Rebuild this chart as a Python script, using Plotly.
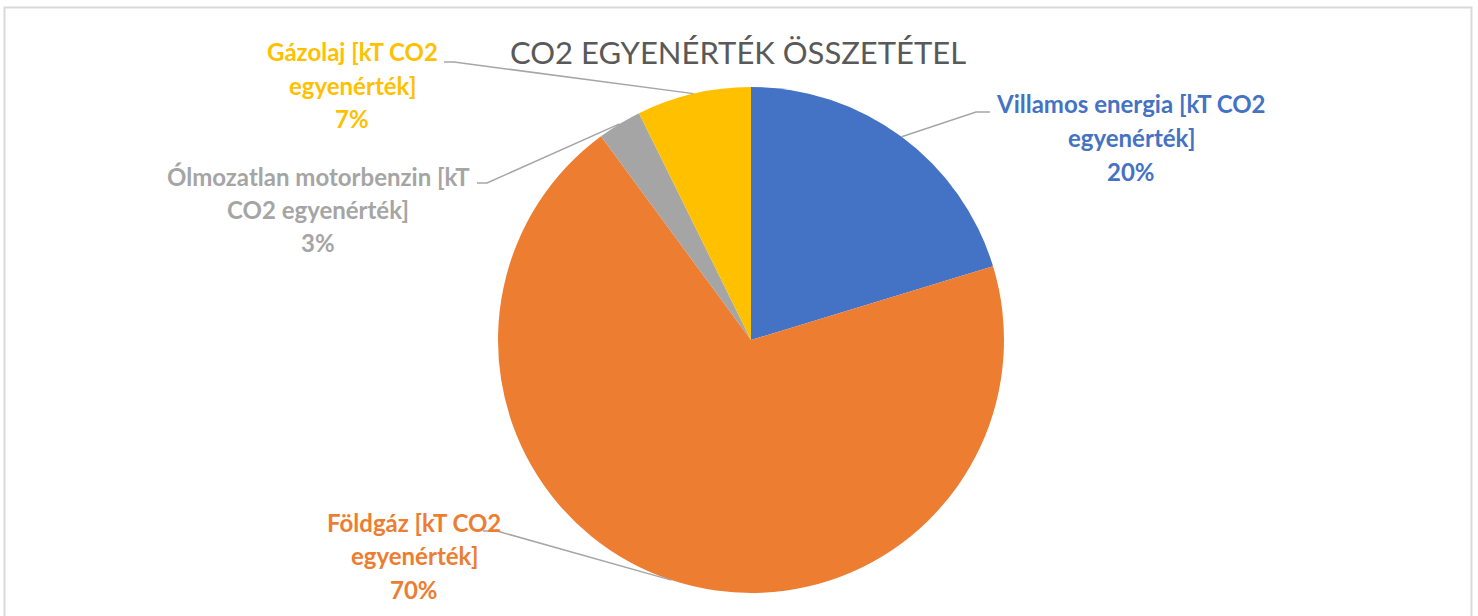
import math
import textwrap
import plotly.graph_objects as go

# ---- data ----
categories = [
    "Villamos energia [kT CO2 egyenérték]",
    "Földgáz [kT CO2 egyenérték]",
    "Ólmozatlan motorbenzin [kT CO2 egyenérték]",
    "Gázolaj [kT CO2 egyenérték]",
]
values = [20.3, 69.6, 2.8, 7.3]
colors = ["#4472C4", "#ED7D31", "#A5A5A5", "#FFC000"]
title_text = "CO2 EGYENÉRTÉK ÖSSZETÉTEL"

# ---- layout (pixels) ----
W, H = 1478, 616
CX, CY, R = 751, 340, 253
# per label: wrap width, center x, first-line y, leader elbow (x,y), leader end at label (x,y)
label_layout = [
    dict(wrap=24, x=1131, y=104, elbow=(976, 112), end=(990, 112)),
    dict(wrap=15, x=414, y=522, elbow=(497, 531), end=(483, 531)),
    dict(wrap=26, x=318, y=176, elbow=(487, 183), end=(477, 183)),
    dict(wrap=15, x=352, y=52, elbow=(454, 62), end=(444, 62)),
]
LINE_H = 33.5
FONT = "Lato, 'Open Sans', Arial, sans-serif"


def px(x):
    return x / W


def py(y):
    return 1 - y / H


fig = go.Figure()
fig.add_trace(go.Pie(
    labels=categories,
    values=values,
    marker=dict(colors=colors, line=dict(color="white", width=0)),
    sort=False,
    direction="clockwise",
    rotation=0,
    textinfo="none",
    hoverinfo="label+percent",
    showlegend=False,
    domain=dict(x=[px(CX - R), px(CX + R)], y=[py(CY + R), py(CY - R)]),
))

total = sum(values)
annotations = []
shapes = []
cum = 0.0
for name, v, col, lay in zip(categories, values, colors, label_layout):
    mid = (cum + v / 2) / total * 2 * math.pi
    cum += v
    ex = CX + R * math.sin(mid)
    ey = CY - R * math.cos(mid)
    # leader line
    shapes.append(dict(
        type="path", xref="paper", yref="paper",
        path=f"M {px(ex)},{py(ey)} L {px(lay['elbow'][0])},{py(lay['elbow'][1])} "
             f"L {px(lay['end'][0])},{py(lay['end'][1])}",
        line=dict(color="#A6A6A6", width=1.5),
    ))
    lines = textwrap.wrap(name, width=lay["wrap"]) + [f"{round(v / total * 100)}%"]
    for i, ln in enumerate(lines):
        annotations.append(dict(
            text=f"<b>{ln}</b>", x=px(lay["x"]), y=py(lay["y"] + i * LINE_H),
            xref="paper", yref="paper", xanchor="center", yanchor="middle",
            showarrow=False, font=dict(family=FONT, size=24, color=col),
        ))

annotations.append(dict(
    text=title_text, x=px(738), y=py(52), xref="paper", yref="paper",
    xanchor="center", yanchor="middle", showarrow=False,
    font=dict(family=FONT, size=31, color="#595959"),
))

# chart border
shapes.append(dict(
    type="rect", xref="paper", yref="paper",
    x0=px(4.5), x1=px(1471.5), y0=py(640), y1=py(7.5),
    line=dict(color="#D9D9D9", width=2), fillcolor="rgba(0,0,0,0)",
))

fig.update_layout(
    width=W, height=H,
    margin=dict(l=0, r=0, t=0, b=0),
    paper_bgcolor="white", plot_bgcolor="white",
    annotations=annotations, shapes=shapes,
)

fig.write_html(
    "out.html",
    config={"displayModeBar": False},
    post_script="document.body.style.margin='0';document.body.style.overflow='hidden';",
)
